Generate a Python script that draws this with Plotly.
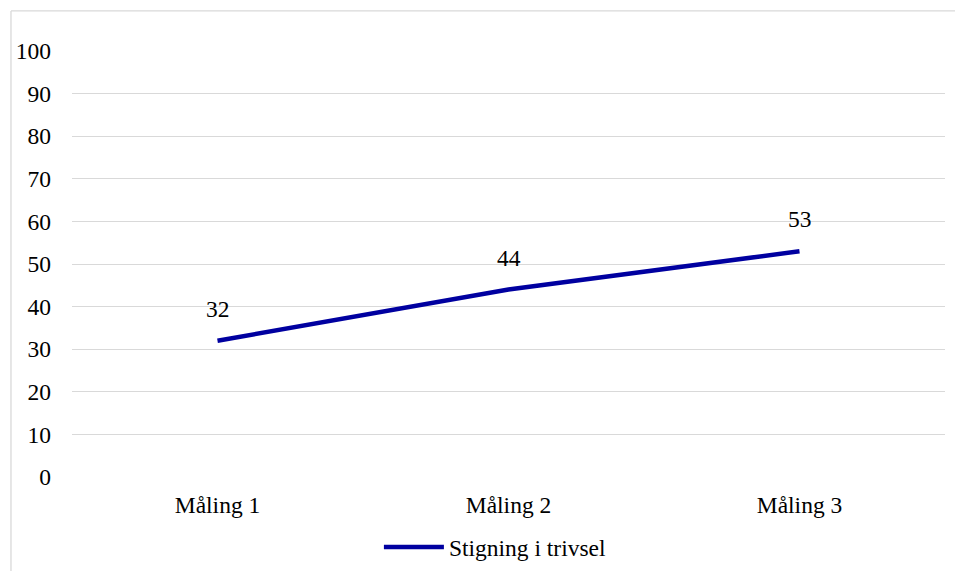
import plotly.graph_objects as go

categories = ["Måling 1", "Måling 2", "Måling 3"]
values = [32, 44, 53]
series_name = "Stigning i trivsel"
y_ticks = list(range(0, 101, 10))

FONT = "Liberation Serif, Times New Roman, serif"
FS = 23.5
GRID = "#d9d9d9"
LINE = "#0000a0"

fig = go.Figure()
fig.add_trace(go.Scatter(
    x=categories, y=values, mode="lines", name=series_name,
    line=dict(color=LINE, width=4.5),
    showlegend=True,
))

for c, v in zip(categories, values):
    fig.add_annotation(x=c, y=v, text=str(v), showarrow=False,
                       yshift=32, font=dict(family=FONT, size=FS, color="#000000"))

fig.update_layout(
    width=955, height=563,
    margin=dict(l=64, r=18, t=43, b=94, autoexpand=False),
    paper_bgcolor="white", plot_bgcolor="white",
    font=dict(family=FONT, size=FS, color="#000000"),
    xaxis=dict(type="category", range=[-0.5, 2.5], showgrid=False, zeroline=False,
               showline=False, ticks="", ticklabelstandoff=11, automargin=False,
               tickfont=dict(family=FONT, size=FS)),
    yaxis=dict(range=[0, 100], tickvals=y_ticks, showgrid=True, gridcolor=GRID,
               gridwidth=1.3, zeroline=False, showline=False, ticks="",
               ticklabelstandoff=20, automargin=False,
               tickfont=dict(family=FONT, size=FS)),
    legend=dict(orientation="h", x=0.485, xanchor="center", y=-0.113, yanchor="top",
                font=dict(family=FONT, size=FS), itemwidth=60),
    shapes=[
        dict(type="line", xref="paper", yref="paper", x0=-0.0699, x1=-0.0699,
             y0=-0.3, y1=1.094, line=dict(color=GRID, width=1.3)),
        dict(type="line", xref="paper", yref="paper", x0=-0.0699, x1=1.05,
             y0=1.094, y1=1.094, line=dict(color=GRID, width=1.3)),
    ],
)

fig.write_html("out.html")
